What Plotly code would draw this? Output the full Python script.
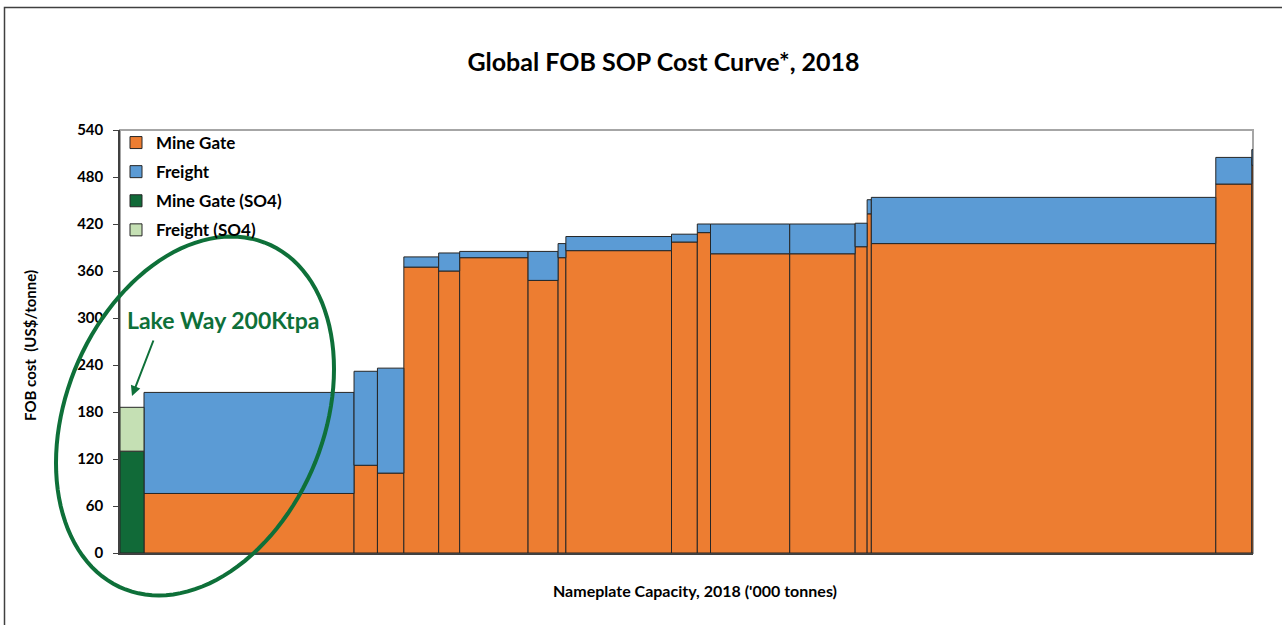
import numpy as np
import plotly.graph_objects as go

# ---------------- data ----------------
# SOP producers (excluding Lake Way), ordered by cost
capacity_kt = [1750, 195, 220, 290, 175, 570, 250, 65, 880, 215, 110, 660, 545, 100, 35, 2870, 300, 10]
mine_gate = [76, 112, 102, 365, 360, 377, 348, 377, 386, 397, 409, 382, 382, 391, 433, 395, 471, 495]
freight = [129, 120, 134, 13, 23, 8, 37, 18, 18, 10, 11, 38, 38, 30, 18, 59, 34, 20]

# Lake Way (SO4)
so4_capacity_kt = [200]
so4_mine_gate = [130]
so4_freight = [56]

y_ticks = [0, 60, 120, 180, 240, 300, 360, 420, 480, 540]

title_text = "Global FOB SOP Cost Curve*, 2018"
x_title = "Nameplate Capacity, 2018 ('000 tonnes)"
y_title = "FOB cost  (US$/tonne)"
note_text = "Lake Way 200Ktpa"

# ---------------- layout geometry ----------------
W, H = 1282, 625
L, R, T, B = 120, 1253, 130, 553
pw, ph = R - L, B - T


def px(xp):  # page pixel x -> paper
    return (xp - L) / pw


def py(yp):  # page pixel y -> paper
    return (B - yp) / ph


FONT = "Lato"
ORANGE = "#ED7D31"
BLUE = "#5B9BD5"
DGREEN = "#116A38"
LGREEN = "#C5E0B4"
EDGE = "#262626"
ANN_GREEN = "#0E7039"

# positions from cumulative capacity
all_caps = np.array(so4_capacity_kt + capacity_kt, dtype=float)
edges = np.concatenate([[0], np.cumsum(all_caps)])
centers = (edges[:-1] + edges[1:]) / 2
so4_x = centers[:1]
x = centers[1:]
total = edges[-1]

fig = go.Figure()
fig.add_trace(go.Bar(x=x, y=mine_gate, width=capacity_kt, name="Mine Gate",
                     marker=dict(color=ORANGE, line=dict(color=EDGE, width=1)),
                     legendgroup="a"))
fig.add_trace(go.Bar(x=x, y=freight, base=mine_gate, width=capacity_kt, name="Freight",
                     marker=dict(color=BLUE, line=dict(color=EDGE, width=1)),
                     legendgroup="b"))
fig.add_trace(go.Bar(x=so4_x, y=so4_mine_gate, width=so4_capacity_kt, name="Mine Gate (SO4)",
                     marker=dict(color=DGREEN, line=dict(color=EDGE, width=1)),
                     legendgroup="c"))
fig.add_trace(go.Bar(x=so4_x, y=so4_freight, base=so4_mine_gate, width=so4_capacity_kt,
                     name="Freight (SO4)",
                     marker=dict(color=LGREEN, line=dict(color=EDGE, width=1)),
                     legendgroup="d"))

# ellipse around the low-cost end (page pixel geometry -> paper coords)
cx, cy = 195, 416
t = np.linspace(0, 2 * np.pi, 121)
ex = cx + 139 * np.cos(t)
ey = cy - 47 * np.cos(t) + 173.2 * np.sin(t)
path = "M " + " L ".join(f"{px(a):.5f},{py(b):.5f}" for a, b in zip(ex, ey)) + " Z"

shapes = [
    # outer chart border
    dict(type="rect", xref="paper", yref="paper", x0=px(4.5), x1=px(1300), y0=py(640), y1=py(7.5),
         line=dict(color="#404040", width=1.5), fillcolor="rgba(0,0,0,0)", layer="below"),
    # plot-area frame (top/right)
    dict(type="rect", xref="paper", yref="paper", x0=0, x1=1, y0=0, y1=1,
         line=dict(color="#A6A6A6", width=2), fillcolor="rgba(0,0,0,0)", layer="below"),
    dict(type="path", xref="paper", yref="paper", path=path,
         line=dict(color=ANN_GREEN, width=4), layer="above"),
]

annotations = [
    dict(xref="paper", yref="paper", x=px(223), y=py(320), xanchor="center", yanchor="middle",
         text=f"<b>{note_text}</b>",
         showarrow=False, font=dict(family=FONT, size=23, color=ANN_GREEN)),
    dict(xref="paper", yref="paper", x=px(132), y=py(396), ax=22, ay=-57,
         axref="pixel", ayref="pixel", text="", showarrow=True,
         arrowhead=2, arrowsize=1, arrowwidth=2, arrowcolor=ANN_GREEN),
    dict(xref="paper", yref="paper", x=px(30), y=py(346), xanchor="center", yanchor="middle",
         text=f"<b>{y_title}</b>", textangle=-90, showarrow=False,
         font=dict(family=FONT, size=15, color="black")),
    dict(xref="paper", yref="paper", x=px(695), y=py(590), xanchor="center", yanchor="middle",
         text=f"<b>{x_title}</b>", showarrow=False,
         font=dict(family=FONT, size=16, color="black")),
]

fig.update_layout(
    width=W, height=H, autosize=False,
    margin=dict(l=L, r=W - R, t=T, b=H - B),
    paper_bgcolor="white", plot_bgcolor="white",
    barmode="overlay",
    title=dict(text=f"<b>{title_text}</b>", x=663.5 / W, xanchor="center",
               y=1 - 62 / H, yanchor="middle",
               font=dict(family=FONT, size=25, color="black")),
    font=dict(family=FONT, color="black"),
    showlegend=True,
    legend=dict(x=px(116), y=py(125), xanchor="left", yanchor="top",
                bgcolor="rgba(0,0,0,0)", tracegroupgap=4,
                font=dict(family=FONT, size=17, color="black", weight="bold"),
                traceorder="grouped"),
    xaxis=dict(range=[0, total], showgrid=False, zeroline=False, showticklabels=False,
               ticks="", showline=True, linecolor="#404040", linewidth=1.5),
    yaxis=dict(range=[0, 540], tickvals=y_ticks, showgrid=False, zeroline=False,
               ticks="outside", ticklen=5, tickcolor="#404040", tickwidth=1,
               showline=True, linecolor="#404040", linewidth=1.5,
               ticklabelstandoff=7,
               tickfont=dict(family=FONT, size=15, color="black", weight="bold")),
    shapes=shapes,
    annotations=annotations,
)

fig.write_html("out.html", config={"displayModeBar": False},
               post_script="document.body.style.margin='0';")
